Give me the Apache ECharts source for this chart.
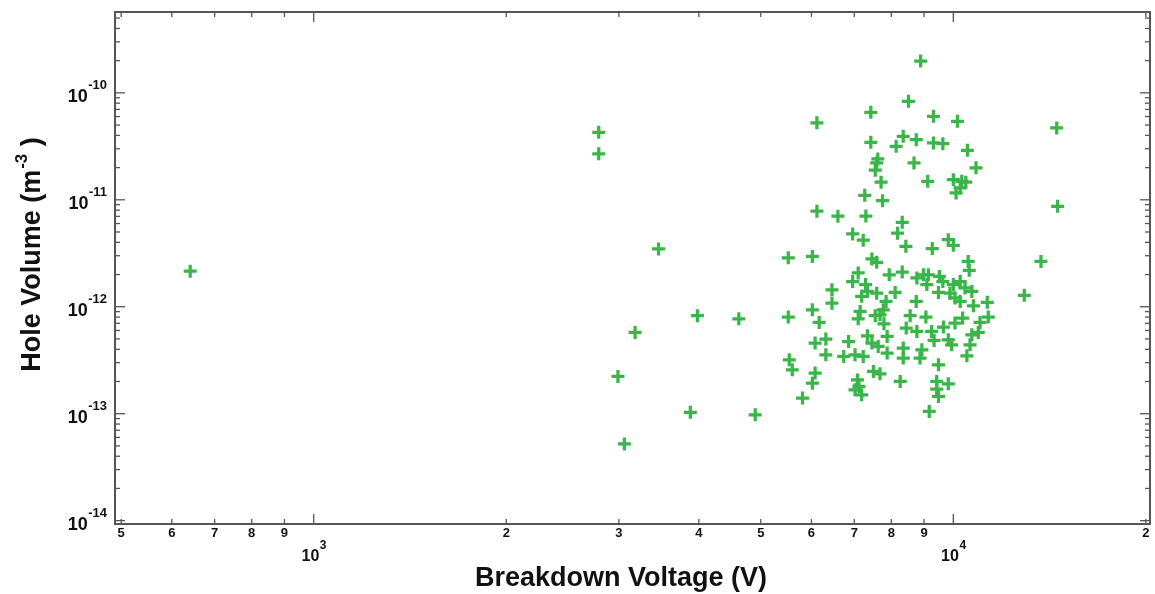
<!DOCTYPE html>
<html><head><meta charset="utf-8">
<script src="https://cdn.jsdelivr.net/npm/echarts@6/dist/echarts.min.js"></script>
<style>html,body{margin:0;padding:0;background:#fff}#c{width:1155px;height:594px}</style>
</head><body><div id="c"></div>
<script>
// ---- data ----
const VOLTAGE = [
2790,2790,3460,3980,4620,3180,2990,3880,4900,3060,641,
8890,8510,7430,6120,9310,10150,14510,7430,8350,8140,8750,9310,9630,10520,7620,7590,7550,8680,10850,
7710,9120,10000,10310,10460,10250,10100,7270,7750,6120,6600,7300,14560,8320,6960,8180,7230,8430,9270,9820,10000,
5520,6020,7460,7590,10550,10590,13710,12910,7100,6960,7940,8320,8770,8980,9140,9090,9510,9630,9480,
6460,6460,7290,7340,7190,7590,8110,10000,10250,10430,10690,9880,10060,8750,10250,10750,11300,11340,11010,10940,
10690,10620,10500,10340,10060,9650,9060,8560,8440,8770,9250,9330,9820,9940,8930,8870,9480,9420,9820,9420,
9480,9170,8260,8350,8350,7880,7880,7790,7770,7850,7680,7550,7100,7150,7340,7460,7630,6860,6740,7020,
7230,6320,6080,6320,6020,6170,5520,5540,5600,6080,6020,5810,7500,7680,7080,7120,7190,7020
];
const HOLE_VOLUME = [
4.28e-11,2.69e-11,3.47e-12,8.24e-13,7.72e-13,5.75e-13,2.23e-13,1.03e-13,9.75e-14,5.22e-14,2.15e-12,
1.98e-10,8.34e-11,6.58e-11,5.24e-11,6.04e-11,5.42e-11,4.70e-11,3.45e-11,3.92e-11,3.16e-11,3.65e-11,3.40e-11,3.35e-11,2.90e-11,2.41e-11,2.21e-11,1.89e-11,2.21e-11,1.99e-11,
1.46e-11,1.49e-11,1.54e-11,1.49e-11,1.46e-11,1.29e-11,1.16e-11,1.10e-11,9.82e-12,7.83e-12,7.03e-12,7.05e-12,8.68e-12,6.15e-12,4.79e-12,4.87e-12,4.19e-12,3.67e-12,3.5e-12,4.24e-12,3.75e-12,
2.87e-12,2.95e-12,2.80e-12,2.60e-12,2.65e-12,2.19e-12,2.65e-12,1.28e-12,2.07e-12,1.72e-12,1.99e-12,2.11e-12,1.86e-12,1.99e-12,1.99e-12,1.61e-12,1.92e-12,1.72e-12,1.36e-12,
1.44e-12,1.08e-12,1.61e-12,1.39e-12,1.25e-12,1.34e-12,1.36e-12,1.61e-12,1.72e-12,1.50e-12,1.39e-12,1.34e-12,1.21e-12,1.12e-12,1.12e-12,1.02e-12,1.10e-12,8.01e-13,7.13e-13,5.75e-13,
5.47e-13,4.41e-13,3.48e-13,7.84e-13,7.04e-13,6.46e-13,8.01e-13,8.24e-13,6.32e-13,5.87e-13,5.87e-13,4.84e-13,4.91e-13,4.41e-13,3.96e-13,3.31e-13,2.86e-13,2.00e-13,1.90e-13,1.70e-13,
1.45e-13,1.05e-13,2.00e-13,4.11e-13,3.31e-13,3.69e-13,5.27e-13,6.93e-13,9.37e-13,1.12e-12,8.41e-13,8.24e-13,7.7e-13,9.04e-13,5.35e-13,4.57e-13,4.25e-13,4.73e-13,3.43e-13,3.55e-13,
3.43e-13,4.98e-13,4.57e-13,3.55e-13,9.37e-13,7.13e-13,8.01e-13,3.19e-13,2.57e-13,2.40e-13,1.93e-13,1.40e-13,2.48e-13,2.36e-13,2.07e-13,1.80e-13,1.50e-13,1.67e-13
];

// ---- axes ----
const X_MIN = 489, X_MAX = 20300;
const Y_MIN = 9.3e-15, Y_MAX = 5.7e-10;
const X_MAJOR_TICKS = [1000, 10000];
const X_MAJOR_EXP = ['3', '4'];
const X_MINOR_TICKS = [500,600,700,800,900,2000,3000,4000,5000,6000,7000,8000,9000,20000];
const X_MINOR_LABELS = ['5','6','7','8','9','2','3','4','5','6','7','8','9','2'];
const Y_MAJOR_TICKS = [1e-14, 1e-13, 1e-12, 1e-11, 1e-10];
const Y_MAJOR_EXP = ['-14', '-13', '-12', '-11', '-10'];
const Y_MINOR_TICKS = [
2e-14,3e-14,4e-14,5e-14,6e-14,7e-14,8e-14,9e-14,
2e-13,3e-13,4e-13,5e-13,6e-13,7e-13,8e-13,9e-13,
2e-12,3e-12,4e-12,5e-12,6e-12,7e-12,8e-12,9e-12,
2e-11,3e-11,4e-11,5e-11,6e-11,7e-11,8e-11,9e-11,
2e-10,3e-10,4e-10,5e-10
];
const X_TITLE = 'Breakdown Voltage (V)';
const Y_TITLE = ['Hole Volume (m', '-3', ' )'];

const FONT = '"Liberation Sans", Arial, Helvetica, sans-serif';
const AX = '#555555';
const TXT = '#111111';
const GREEN = '#3AB54A';
const PLUS = 'path://M6,0H10V6H16V10H10V16H6V10H0V6H6Z';

const mctx = document.createElement('canvas').getContext('2d');
function tw(text, size) { mctx.font = 'bold ' + size + 'px ' + FONT; return mctx.measureText(text).width; }
function txt(x, y, text, size, align, extra) {
  return Object.assign({ type: 'text', x: x, y: y, style: {
    text: text, fontFamily: FONT, fontWeight: 'bold', fontSize: size, fill: TXT,
    align: align, verticalAlign: 'middle' } }, extra || {});
}

const points = VOLTAGE.map((v, i) => [v, HOLE_VOLUME[i]]);
const xTickData = X_MAJOR_TICKS.map((v, i) => [v, Y_MIN, 1, i])
  .concat(X_MINOR_TICKS.map((v, i) => [v, Y_MIN, 0, i]));
const yTickData = Y_MAJOR_TICKS.map((v, i) => [X_MIN, v, 1, i])
  .concat(Y_MINOR_TICKS.map((v) => [X_MIN, v, 0, -1]));

function renderXTick(params, api) {
  const v = api.value(0), major = api.value(2) === 1, idx = api.value(3);
  const cs = params.coordSys;
  const px = api.coord([v, Y_MIN])[0];
  const len = major ? 10 : 5;
  const bottom = cs.y + cs.height, top = cs.y;
  const st = { stroke: AX, lineWidth: 1.3 };
  const ch = [
    { type: 'line', shape: { x1: px, y1: bottom, x2: px, y2: bottom - len }, style: st },
    { type: 'line', shape: { x1: px, y1: top, x2: px, y2: top + len }, style: st }
  ];
  if (major) {
    const e = X_MAJOR_EXP[idx];
    const wb = tw('10', 16), ws = tw(e, 12);
    const x0 = px - (wb + ws) / 2;
    ch.push(txt(x0, bottom + 33, '10', 16, 'left'));
    ch.push(txt(x0 + wb + 0.5, bottom + 21.5, e, 12, 'left'));
  } else {
    ch.push(txt(px, bottom + 9.5, X_MINOR_LABELS[idx], 13, 'center'));
  }
  return { type: 'group', children: ch };
}

function renderYTick(params, api) {
  const v = api.value(1), major = api.value(2) === 1, idx = api.value(3);
  const cs = params.coordSys;
  const py = api.coord([X_MIN, v])[1];
  const len = major ? 10 : 5;
  const left = cs.x, right = cs.x + cs.width;
  const st = { stroke: AX, lineWidth: 1.3 };
  const ch = [
    { type: 'line', shape: { x1: left, y1: py, x2: left + len, y2: py }, style: st },
    { type: 'line', shape: { x1: right, y1: py, x2: right - len, y2: py }, style: st }
  ];
  if (major) {
    const e = Y_MAJOR_EXP[idx];
    const ws = tw(e, 13);
    const xr = left - 8;
    ch.push(txt(xr, py - 7, e, 13, 'right'));
    ch.push(txt(xr - ws - 0.5, py + 4, '10', 18, 'right'));
  }
  return { type: 'group', children: ch };
}

// titles built as graphic text (y title rotated, with superscript)
const YT_SIZE = 27, YT_SUP = 17;
const w1 = tw(Y_TITLE[0], YT_SIZE), w2 = tw(Y_TITLE[1], YT_SUP), w3 = tw(Y_TITLE[2], YT_SIZE);
const W = w1 + w2 + w3;
const yTitle = {
  type: 'group', x: 33, y: 255, rotation: Math.PI / 2, silent: true,
  children: [
    txt(-W / 2, 0, Y_TITLE[0], YT_SIZE, 'left'),
    txt(-W / 2 + w1 + 1, -11, Y_TITLE[1], YT_SUP, 'left'),
    txt(-W / 2 + w1 + w2 + 1, 0, Y_TITLE[2], YT_SIZE, 'left')
  ]
};
const xTitle = txt(621, 579, X_TITLE, 27, 'center', { silent: true });

const chart = echarts.init(document.getElementById('c'), null, { renderer: 'canvas' });
chart.setOption({
  animation: false,
  backgroundColor: '#ffffff',
  grid: { left: 115, top: 12, width: 1035, height: 512, show: true, borderColor: AX, borderWidth: 2,
          backgroundColor: '#fff', containLabel: false, outerBoundsMode: 'none' },
  graphic: [yTitle, xTitle],
  xAxis: {
    type: 'log', logBase: 10, min: X_MIN, max: X_MAX,
    axisLine: { show: false }, axisTick: { show: false }, axisLabel: { show: false }, splitLine: { show: false }
  },
  yAxis: {
    type: 'log', logBase: 10, min: Y_MIN, max: Y_MAX,
    axisLine: { show: false }, axisTick: { show: false }, axisLabel: { show: false }, splitLine: { show: false }
  },
  series: [
    { type: 'custom', renderItem: renderXTick, data: xTickData, clip: false, silent: true, z: 3 },
    { type: 'custom', renderItem: renderYTick, data: yTickData, clip: false, silent: true, z: 3 },
    { type: 'scatter', data: points, symbol: PLUS, symbolSize: 13, itemStyle: { color: GREEN, opacity: 1 }, z: 5 }
  ]
});
</script></body></html>
